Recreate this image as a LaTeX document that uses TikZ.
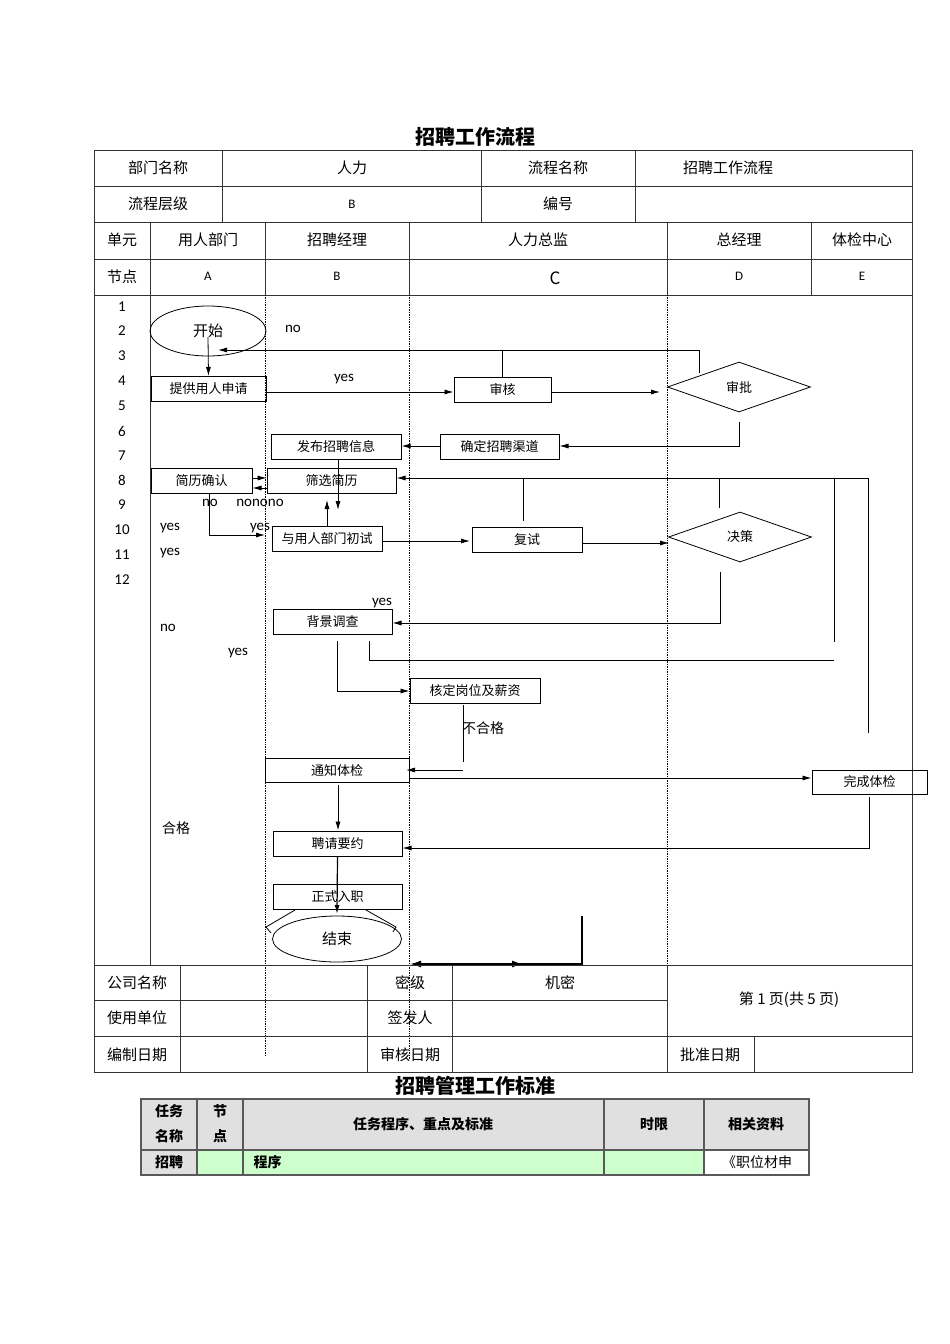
\documentclass[tikz,border=0pt]{standalone}
\usepackage{fontspec}
\setmainfont{Noto Sans CJK SC}
\newfontfamily\lat{Carlito}
\usetikzlibrary{shapes.geometric,arrows.meta}
\tikzset{
  box/.style={draw,line width=1pt,inner sep=0pt,font=\fontsize{13}{15}\selectfont},
  dia/.style={draw,diamond,aspect=2.86,inner sep=0pt,line width=0.8pt,font=\fontsize{13}{15}\selectfont},
  ell/.style={draw,ellipse,inner sep=0pt,line width=0.8pt,font=\fontsize{15}{17}\selectfont},
  arr/.style={-{Latex[length=9pt,width=5pt]}},
  ln/.style={line width=0.8pt},
  tb/.style={line width=0.8pt,draw=black!80},
  lane/.style={densely dotted,line width=0.7pt},
  tt/.style={font=\fontsize{15}{18}\selectfont},
  lbl/.style={font=\lat\fontsize{15}{18}\selectfont},
  cj/.style={font=\fontsize{14}{17}\selectfont},
}
\begin{document}
\begin{tikzpicture}[x=1pt,y=-1pt]
\useasboundingbox (0,0) rectangle (950,1344);
\fill[white] (0,0) rectangle (950,1344);
% title
\node[font=\bfseries\fontsize{20}{24}\selectfont] (t1) at (475,137) {招聘工作流程};
% top table
\draw[tb] (94,150) rectangle (912,965);
\foreach \y in {186,222,259,295} \draw[tb] (94,\y) -- (912,\y);
\foreach \x in {222,481,635} \draw[tb] (\x,150) -- (\x,222);
\foreach \x in {150,265,409,667,811} \draw[tb] (\x,222) -- (\x,295);
\draw[tb] (150,295) -- (150,965);
\node[tt] (h1) at (158,168) {部门名称};
\node[tt] (h2) at (352,168) {人力};
\node[tt] (h3) at (558,168) {流程名称};
\node[tt] (h4) at (728,168) {招聘工作流程};
\node[tt] (h5) at (158,204) {流程层级};
\node[lbl,font=\lat\fontsize{13}{15}\selectfont] (h6) at (352,204) {B};
\node[tt] (h7) at (558,204) {编号};
\node[tt] (u0) at (122,240) {单元};
\node[tt] (u1) at (208,240) {用人部门};
\node[tt] (u2) at (337,240) {招聘经理};
\node[tt] (u3) at (538,240) {人力总监};
\node[tt] (u4) at (739,240) {总经理};
\node[tt] (u5) at (862,240) {体检中心};
\node[tt] (n0) at (122,277) {节点};
\node[lbl,font=\lat\fontsize{13}{15}\selectfont] (n1) at (208,276) {A};
\node[lbl,font=\lat\fontsize{13}{15}\selectfont] (n2) at (337,276) {B};
\node[tt,font=\rmfamily\fontsize{17}{19}\selectfont] (n3) at (555,278) {C};
\node[lbl,font=\lat\fontsize{13}{15}\selectfont] (n4) at (739,276) {D};
\node[lbl,font=\lat\fontsize{13}{15}\selectfont] (n5) at (862,276) {E};
\foreach \i/\y in {1/307,2/331,3/356,4/381,5/406,6/431,7/456,8/480,9/505,10/530,11/555,12/580}
  \node[lbl] (r\i) at (122,\y) {\i};
% lanes
\draw[lane] (265,295) -- (265,1055);
\draw[lane] (409,295) -- (409,1060);
\draw[lane] (667,295) -- (667,1072);
% nodes
\node[ell,minimum width=116,minimum height=50] (start) at (208,331) {开始};
\node[box,minimum width=115,minimum height=25] (tg) at (208.5,389) {提供用人申请};
\node[box,minimum width=97,minimum height=25] (sh) at (502.5,389.5) {审核};
\node[dia,minimum width=143,minimum height=50] (sp) at (739,387) {审批};
\node[box,minimum width=130,minimum height=25] (fb) at (336,446.5) {发布招聘信息};
\node[box,minimum width=119,minimum height=25] (qd) at (499.5,446.5) {确定招聘渠道};
\node[box,minimum width=101,minimum height=25] (jq) at (201.5,480.5) {简历确认};
\node[box,minimum width=129,minimum height=25] (sx) at (331.5,480.5) {筛选简历};
\node[box,minimum width=110,minimum height=25] (cs) at (327,538.5) {与用人部门初试};
\node[box,minimum width=110,minimum height=25] (fs) at (527,539.5) {复试};
\node[dia,minimum width=143,minimum height=50] (jc) at (740,537) {决策};
\node[box,minimum width=119,minimum height=25] (bj) at (332.5,621.5) {背景调查};
\node[box,minimum width=130,minimum height=25] (hd) at (475,690.5) {核定岗位及薪资};
\node[box,minimum width=144,minimum height=24] (tz) at (337,770) {通知体检};
\node[box,minimum width=115,minimum height=24] (wc) at (869.5,782) {完成体检};
\node[box,minimum width=129,minimum height=25] (pq) at (337.5,843.5) {聘请要约};
\node[box,minimum width=129,minimum height=25] (zs) at (337.5,896.5) {正式入职};
\node[ell,minimum width=129,minimum height=46] (end) at (337,939) {结束};
\draw[ln] (295,910) -- (266,927) -- (271,933);
\draw[ln] (366,910) -- (396,927) -- (393,932);
% labels
\node[lbl] at (293,329) {no};
\node[lbl] at (344,379) {yes};
\node[lbl] at (210,503) {no};
\node[lbl] at (260,503) {nonono};
\node[lbl] at (170,528) {yes};
\node[lbl] at (260,528) {yes};
\node[lbl] at (170,553) {yes};
\node[lbl] at (382,603) {yes};
\node[lbl] at (168,628) {no};
\node[lbl] at (238,653) {yes};
\node[cj] at (483,728) {不合格};
\node[cj] at (176,828) {合格};
% coordinates
\coordinate (c1) at (699,373);
\coordinate (c2) at (699,350);
\coordinate (c3) at (218,350);
% connectors
\draw[ln,arr] (208,337) -- (tg.north);
\draw[ln,arr] (c1) -- (c2) -- (c3);
\draw[ln] (sh.north) -- (sh.north |- c2);
\draw[ln,arr] (tg.east |- 0,392) -- (sh.west |- 0,392);
\draw[ln,arr] (sh.east |- 0,392) -- (660,392);
\draw[ln,arr] (739,422) -- (739,446) -- (qd.east |- 0,446);
\draw[ln,arr] (qd.west |- 0,446) -- (fb.east |- 0,446);
\draw[ln,arr] (338,459) -- (338,510);
\draw[ln,arr] (868,478) -- (sx.east |- 0,478);
\draw[ln] (523,478) -- (523,521);
\draw[ln] (719,478) -- (719,508);
\draw[ln] (834,478) -- (834,642);
\draw[ln] (868,478) -- (868,733);
\draw[ln,arr] (jq.east |- 0,478) -- (sx.west |- 0,478);
\draw[ln,arr] (sx.west |- 0,488) -- (jq.east |- 0,488);
\draw[ln,arr] (209,493) -- (209,535) -- (265,535);
\draw[ln,arr] (327,526) -- (327,500);
\draw[ln,arr] (cs.east |- 0,541) -- (470,541);
\draw[ln,arr] (fs.east |- 0,543) -- (669,543);
\draw[ln,arr] (720,572) -- (720,623) -- (bj.east |- 0,623);
\draw[ln,arr] (337,641) -- (337,691) -- (hd.west |- 0,691);
\draw[ln] (369,641) -- (369,660) -- (834,660);
\draw[ln] (463,705) -- (463,762);
\draw[ln,arr] (463,770) -- (406,770);
\draw[ln,arr] (409,778) -- (wc.west |- 0,778);
\draw[ln,arr] (869,797) -- (869,848) -- (pq.east |- 0,848);
\draw[ln,arr] (338,785) -- (pq.north -| 338,0);
\draw[line width=1.2pt,arr] (pq.south) -- (337,914);
\draw[line width=1.5pt,-{Latex[length=11pt,width=7pt]}] (582,916) -- (582,964) -- (410,964);
\draw[line width=1.5pt,-{Latex[length=11pt,width=7pt]}] (430,964) -- (523,964);
% bottom table
\draw[tb] (94,965) rectangle (912,1072);
\draw[tb] (94,1000) -- (667,1000);
\draw[tb] (94,1036) -- (912,1036);
\foreach \x in {180,367,452} \draw[tb] (\x,965) -- (\x,1072);
\draw[tb] (667,965) -- (667,1072);
\draw[tb] (754,1036) -- (754,1072);
\node[tt] (b1) at (137,983) {公司名称};
\node[tt] (b2) at (410,983) {密级};
\node[tt] (b3) at (560,983) {机密};
\node[tt] (b4) at (789,1000) {第 1 页(共 5 页)};
\node[tt] (b5) at (137,1018) {使用单位};
\node[tt] (b6) at (410,1018) {签发人};
\node[tt] (b7) at (137,1055) {编制日期};
\node[tt] (b8) at (410,1055) {审核日期};
\node[tt] (b9) at (710,1055) {批准日期};
% second title & table
\node[font=\bfseries\fontsize{20}{24}\selectfont] (t2) at (475,1086) {招聘管理工作标准};
\fill[black!12] (141,1099) rectangle (809,1150);
\fill[black!12] (141,1150) rectangle (197,1175);
\fill[green!20] (197,1150) rectangle (704,1175);
\draw[line width=1.2pt,draw=black!65] (141,1099) rectangle (809,1175);
\draw[line width=1.2pt,draw=black!65] (141,1150) -- (809,1150);
\foreach \x in {197,243,604,704} \draw[line width=1.2pt,draw=black!65] (\x,1099) -- (\x,1175);
\node[font=\bfseries\fontsize{14}{25}\selectfont,align=center] (s1) at (169,1124) {任务\\名称};
\node[font=\bfseries\fontsize{14}{25}\selectfont,align=center] (s2) at (220,1124) {节\\点};
\node[font=\bfseries\fontsize{14}{17}\selectfont] (s3) at (423,1124) {任务程序、重点及标准};
\node[font=\bfseries\fontsize{14}{17}\selectfont] (s4) at (654,1124) {时限};
\node[font=\bfseries\fontsize{14}{17}\selectfont] (s5) at (756,1124) {相关资料};
\node[font=\bfseries\fontsize{14}{17}\selectfont] (s6) at (169,1162) {招聘};
\node[font=\bfseries\fontsize{14}{17}\selectfont,anchor=west] (s7) at (250,1162) {程序};
\node[font=\fontsize{14}{17}\selectfont] (s8) at (757,1162) {《职位材申};
\end{tikzpicture}
\end{document}
